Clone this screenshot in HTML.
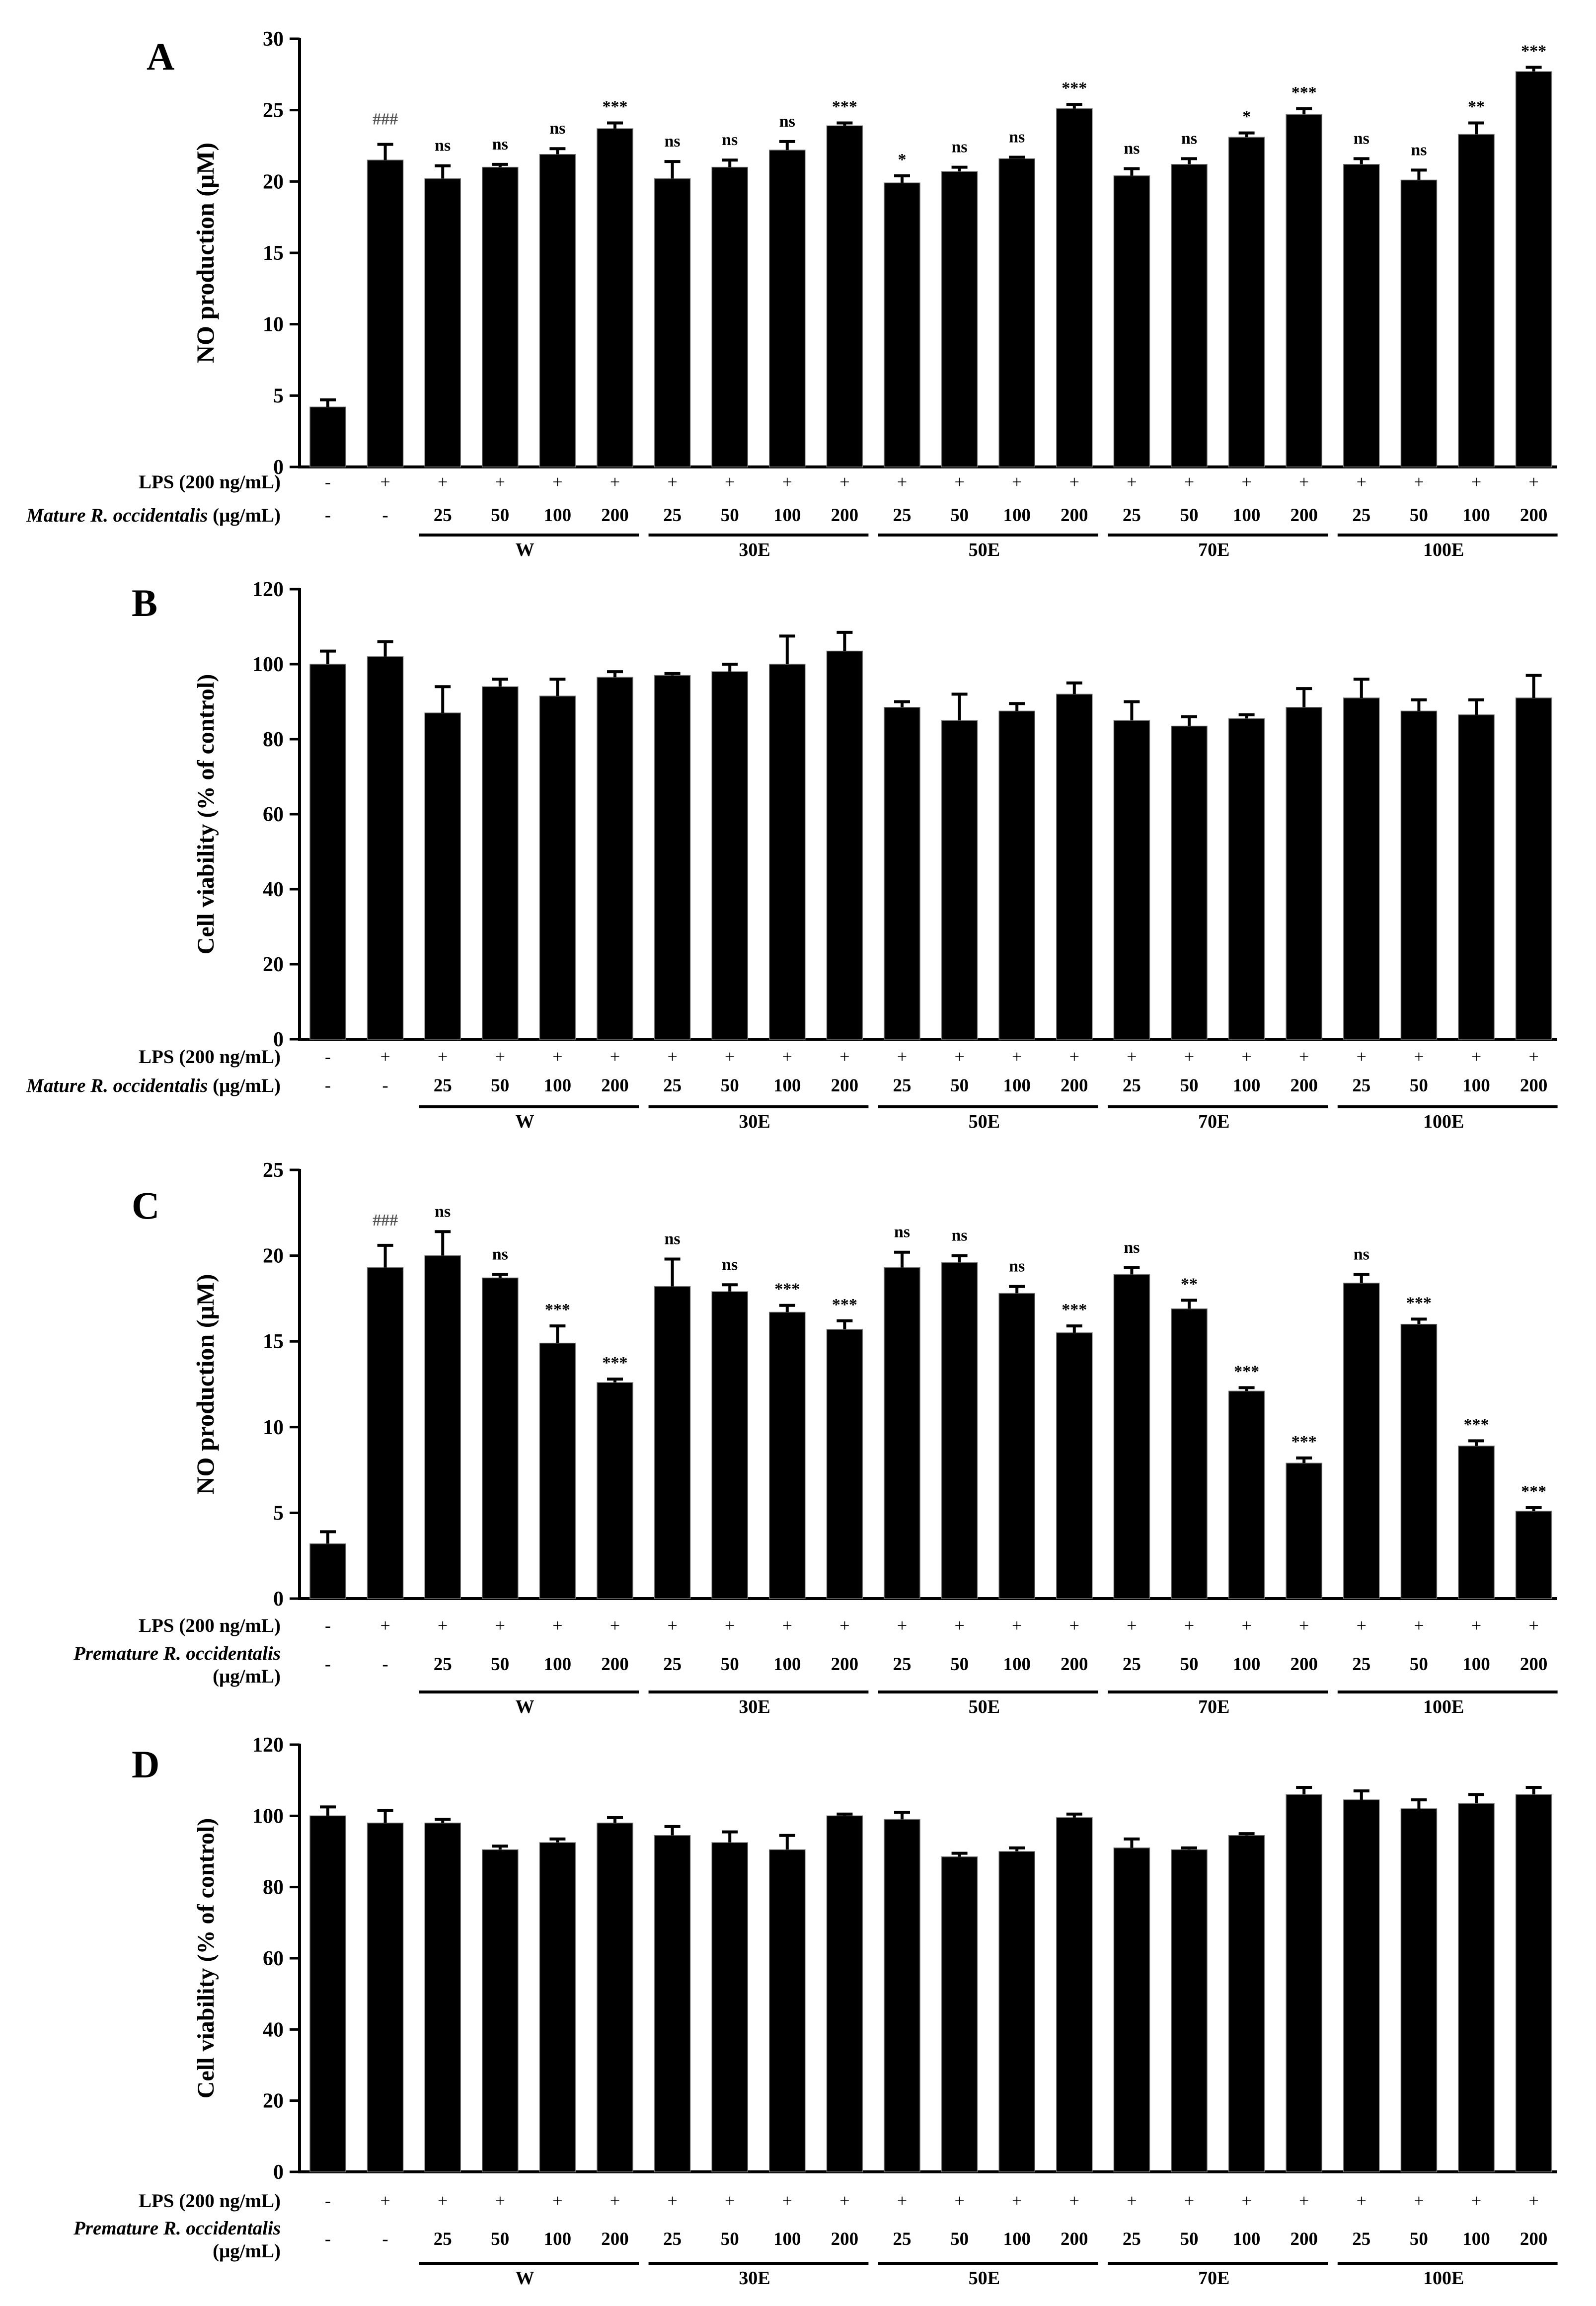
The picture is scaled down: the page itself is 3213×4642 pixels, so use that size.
<!DOCTYPE html>
<html><head><meta charset="utf-8"><style>
html,body{margin:0;padding:0;background:#fff;}
svg{display:block;font-family:"Liberation Serif",serif;font-weight:bold;}
</style></head><body>
<svg id="fig" width="3213" height="4642" viewBox="0 0 3213 4642" xmlns="http://www.w3.org/2000/svg"></svg>
<script>
const valuesA=[4.2,21.5,20.2,21.0,21.9,23.7,20.2,21.0,22.2,23.9,19.9,20.7,21.6,25.1,20.4,21.2,23.1,24.7,21.2,20.1,23.3,27.7];
const errorsA=[0.5,1.1,0.9,0.2,0.4,0.4,1.2,0.5,0.6,0.2,0.5,0.3,0.1,0.3,0.5,0.4,0.3,0.4,0.4,0.7,0.8,0.3];
const annotA=["","###","ns","ns","ns","***","ns","ns","ns","***","*","ns","ns","***","ns","ns","*","***","ns","ns","**","***"];
const valuesB=[100,102,87,94,91.5,96.5,97,98,100,103.5,88.5,85,87.5,92,85,83.5,85.5,88.5,91,87.5,86.5,91];
const errorsB=[3.5,4,7,2,4.5,1.5,0.5,2,7.5,5,1.5,7,2,3,5,2.5,1,5,5,3,4,6];
const valuesC=[3.2,19.3,20.0,18.7,14.9,12.6,18.2,17.9,16.7,15.7,19.3,19.6,17.8,15.5,18.9,16.9,12.1,7.9,18.4,16.0,8.9,5.1];
const errorsC=[0.7,1.3,1.4,0.2,1.0,0.2,1.6,0.4,0.4,0.5,0.9,0.4,0.4,0.4,0.4,0.5,0.2,0.3,0.5,0.3,0.3,0.2];
const annotC=["","###","ns","ns","***","***","ns","ns","***","***","ns","ns","ns","***","ns","**","***","***","ns","***","***","***"];
const valuesD=[100,98,98,90.5,92.5,98,94.5,92.5,90.5,100,99,88.5,90,99.5,91,90.5,94.5,106,104.5,102,103.5,106];
const errorsD=[2.5,3.5,1,1,1,1.5,2.5,3,4,0.5,2,1,1,1,2.5,0.5,0.5,2,2.5,2.5,2.5,2];
const ticksNO=[0,5,10,15,20,25,30];
const ticksNO2=[0,5,10,15,20,25];
const ticksCV=[0,20,40,60,80,100,120];
const lpsRow=["-","+","+","+","+","+","+","+","+","+","+","+","+","+","+","+","+","+","+","+","+","+"];
const concRow=["-","-","25","50","100","200","25","50","100","200","25","50","100","200","25","50","100","200","25","50","100","200"];
const groups=["W","30E","50E","70E","100E"];

const NS="http://www.w3.org/2000/svg";
const svg=document.getElementById('fig');
function mk(tag,attrs,parent,text){const e=document.createElementNS(NS,tag);for(const k in attrs)e.setAttribute(k,attrs[k]);if(text!==undefined)e.textContent=text;(parent||svg).appendChild(e);return e;}

const AX=603, X0=660, STEP=115.6, BW=72, XEND=3135;
function xPos(i){return X0+i*STEP;}

function panel(cfg){
  const g=mk('g',{});
  
  
  const yMax=cfg.ticks[cfg.ticks.length-1];
  const y=v=>cfg.zero-(v/yMax)*(cfg.zero-cfg.top);
  const l=mk('text',{x:cfg.letterX,y:cfg.letterY,'font-size':78},g,cfg.letter);
   
  const ya=mk('line',{x1:AX,y1:cfg.top-2,x2:AX,y2:cfg.zero+2,stroke:'#000','stroke-width':6},g);
   
  const xa=mk('line',{x1:AX-3,y1:cfg.zero,x2:XEND,y2:cfg.zero,stroke:'#000','stroke-width':6},g);
   
  cfg.ticks.forEach(t=>{
    const tk=mk('line',{x1:AX-20,y1:y(t),x2:AX,y2:y(t),stroke:'#000','stroke-width':5},g);
     
    const tl=mk('text',{x:AX-32,y:y(t)+14,'font-size':42,'text-anchor':'end'},g,String(t));
     
  });
  const my=(cfg.top+cfg.zero)/2;
  const yt=mk('text',{x:0,y:0,'font-size':cfg.titleSize,'text-anchor':'middle',transform:`translate(${cfg.titleX},${my}) rotate(-90)`},g,cfg.title);
   
  cfg.values.forEach((v,i)=>{
    const cx=xPos(i);
    const b=mk('rect',{x:cx-BW/2,y:y(v),width:BW,height:cfg.zero-y(v),fill:'#000',stroke:'#777','stroke-width':1.5},g);
     
    const et=y(v+cfg.errors[i]);
    const e1=mk('line',{x1:cx,y1:y(v),x2:cx,y2:et,stroke:'#000','stroke-width':6},g);
     
    const e2=mk('line',{x1:cx-16,y1:et,x2:cx+16,y2:et,stroke:'#000','stroke-width':6},g);
     
    if(cfg.annot && cfg.annot[i]){
      const a=cfg.annot[i];
      const star=a.indexOf('*')>=0;
      const at=mk('text',{x:cx,y:et-(a==='###'?40:(star?22:30)),'font-size':34,'text-anchor':'middle',fill:a==='###'?'#555':'#000'},g,a);
       
    }
    const lp=mk('text',{x:cx,y:cfg.lpsY+12,'font-size':36,'text-anchor':'middle','font-weight':'normal'},g,lpsRow[i]);
     
    const cc=mk('text',{x:cx,y:cfg.concY+12,'font-size':37,'text-anchor':'middle','font-weight':concRow[i]==='-'?'normal':'bold'},g,concRow[i]);
     
  });
  const r1=mk('text',{x:565,y:cfg.lpsY+13,'font-size':39,'text-anchor':'end'},g,'LPS (200 ng/mL)');
   
  if(cfg.premature){
    const r2=mk('text',{x:565,y:cfg.concY-9,'font-size':39,'text-anchor':'end','font-style':'italic'},g,'Premature R. occidentalis');
     
    const r3=mk('text',{x:565,y:cfg.concY+37,'font-size':39,'text-anchor':'end'},g,'(μg/mL)');
     
  } else {
    const r2=mk('text',{x:565,y:cfg.concY+13,'font-size':39,'text-anchor':'end'},g);
     
    mk('tspan',{'font-style':'italic'},r2,'Mature R. occidentalis');
    mk('tspan',{},r2,' (μg/mL)');
  }
  groups.forEach((gn,k)=>{
    const a=xPos(2+k*4)-48, b=xPos(5+k*4)+48;
    const gl=mk('line',{x1:a,y1:cfg.lineY,x2:b,y2:cfg.lineY,stroke:'#000','stroke-width':6},g);
     
    const gt=mk('text',{x:(a+b)/2-8,y:cfg.lineY+42,'font-size':38,'text-anchor':'middle'},g,gn);
     
  });
}
panel({letter:'A',letterX:295,letterY:140,top:78,zero:940,ticks:ticksNO,values:valuesA,errors:errorsA,annot:annotA,title:'NO production  (μM)',titleSize:50,titleX:430,lpsY:970,concY:1037,lineY:1077});
panel({letter:'B',letterX:265,letterY:1240,top:1186,zero:2092,ticks:ticksCV,values:valuesB,errors:errorsB,title:'Cell viability (% of control)',titleSize:48,titleX:430,lpsY:2127,concY:2185,lineY:2228});
panel({letter:'C',letterX:265,letterY:2453,top:2355,zero:3218,ticks:ticksNO2,values:valuesC,errors:errorsC,annot:annotC,title:'NO production  (μM)',titleSize:50,titleX:430,lpsY:3272,concY:3350,lineY:3406,premature:true});
panel({letter:'D',letterX:265,letterY:3578,top:3512,zero:4372,ticks:ticksCV,values:valuesD,errors:errorsD,title:'Cell viability (% of control)',titleSize:48,titleX:430,lpsY:4430,concY:4507,lineY:4556,premature:true});
</script>
</body></html>
